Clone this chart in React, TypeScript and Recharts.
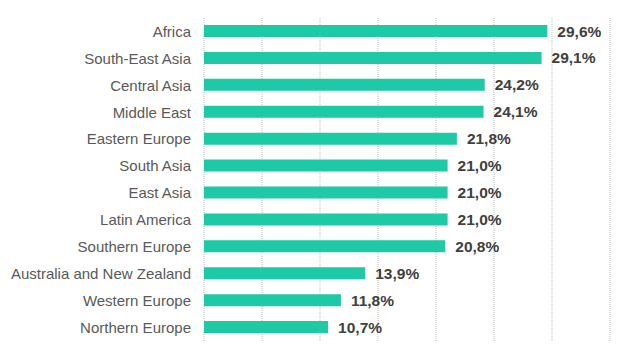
import React from "react";
import { BarChart, Bar, XAxis, YAxis, CartesianGrid, LabelList } from "recharts";

const regions = [
  "Africa",
  "South-East Asia",
  "Central Asia",
  "Middle East",
  "Eastern Europe",
  "South Asia",
  "East Asia",
  "Latin America",
  "Southern Europe",
  "Australia and New Zealand",
  "Western Europe",
  "Northern Europe",
];
const shares = [29.6, 29.1, 24.2, 24.1, 21.8, 21.0, 21.0, 21.0, 20.8, 13.9, 11.8, 10.7];
const xTicks = [0, 5, 10, 15, 20, 25, 30, 35];

const data = regions.map((r, i) => ({ region: r, value: shares[i] }));

const fmt = (v: number) => v.toFixed(1).replace(".", ",") + "%";

const EmptyTick = () => <g />;

export default function App() {
  return (
    <div style={{ position: "absolute", left: 0, top: 0, width: 629, height: 359, background: "#fff" }}>
      <BarChart
        width={629}
        height={359}
        data={data}
        layout="vertical"
        margin={{ top: 18, right: 19, bottom: 18, left: 0 }}
      >
        <CartesianGrid horizontal={false} vertical={true} stroke="#bdbdbd" strokeDasharray="1 1" />
        <XAxis
          type="number"
          domain={[0, 35]}
          ticks={xTicks}
          height={0}
          tick={<EmptyTick />}
          axisLine={false}
          tickLine={false}
        />
        <YAxis
          type="category"
          dataKey="region"
          width={204}
          axisLine={false}
          tickLine={false}
          tickSize={0}
          tickMargin={13}
          interval={0}
          tick={{ fill: "#595959", fontSize: 15, fontFamily: "Liberation Sans, Arial, sans-serif" }}
        />
        <Bar dataKey="value" fill="#1ec9a5" barSize={12} isAnimationActive={false}>
          <LabelList
            dataKey="value"
            position="right"
            offset={10}
            formatter={(v: any) => fmt(Number(v))}
            style={{ fill: "#404040", fontSize: 15.5, fontWeight: "bold", fontFamily: "Liberation Sans, Arial, sans-serif" }}
          />
        </Bar>
      </BarChart>
    </div>
  );
}
